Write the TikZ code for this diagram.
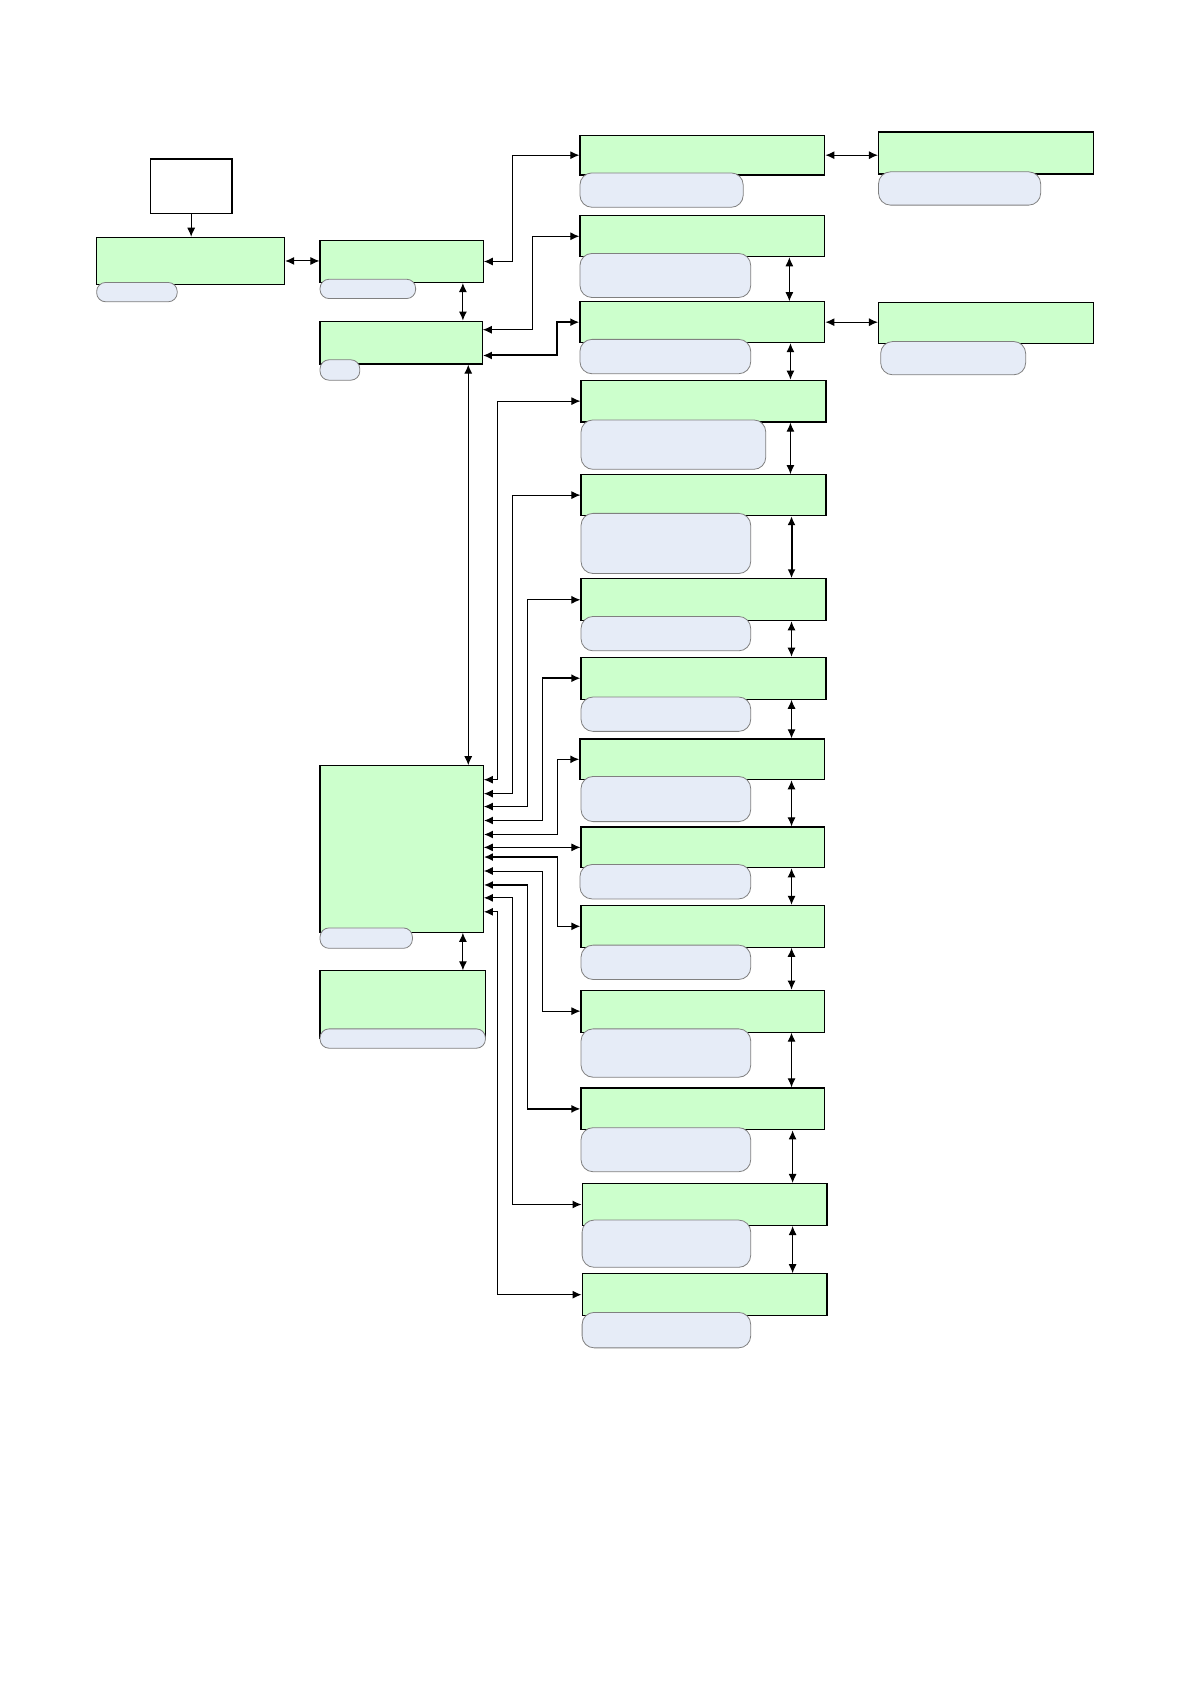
\documentclass[tikz,border=0pt]{standalone}
\usepackage{tikz}
\usetikzlibrary{arrows.meta,fit}
\definecolor{boxgreen}{HTML}{CCFFCC}
\definecolor{pillblue}{HTML}{E6ECF7}

\begin{document}
\begin{tikzpicture}[x=0.537pt,y=-0.537pt,
  gbox/.style={draw=black,fill=boxgreen,line width=0.6pt,inner sep=0pt},
  wbox/.style={draw=black,fill=white,line width=0.6pt,inner sep=0pt},
  pill/.style={draw=gray,fill=pillblue,line width=0.4pt,inner sep=0pt,rounded corners=6pt},
  spill/.style={pill,rounded corners=4.5pt},
  link/.style={line width=0.5pt,{Latex[length=4.5pt,width=4pt]}-{Latex[length=4.5pt,width=4pt]}},
  tolink/.style={line width=0.5pt,-{Latex[length=4.5pt,width=4pt]}}]
\useasboundingbox (0,0) rectangle (1109,1568);
\node[wbox,fit={(140,148) (216,199)}] (src) {};
\node[gbox,fit={(90,221) (265,265)}] (a) {};
\node[gbox,fit={(298,224) (450,263)}] (b) {};
\node[gbox,fit={(298,299) (449,339)}] (c) {};
\node[gbox,fit={(298,713) (450,868)}] (f) {};
\node[gbox,fit={(298,904) (452,967)}] (g) {};
\node[gbox,fit={(540,126) (768,163)}] (d1) {};
\node[gbox,fit={(540,201) (768,239)}] (d2) {};
\node[gbox,fit={(540,281) (768,319)}] (d3) {};
\node[gbox,fit={(541,354) (769,393)}] (d4) {};
\node[gbox,fit={(541,442) (769,480)}] (d5) {};
\node[gbox,fit={(541,539) (769,578)}] (d6) {};
\node[gbox,fit={(541,612) (769,651)}] (d7) {};
\node[gbox,fit={(540,688) (768,726)}] (d8) {};
\node[gbox,fit={(541,770) (768,808)}] (d9) {};
\node[gbox,fit={(541,843) (768,882)}] (d10) {};
\node[gbox,fit={(541,922) (768,961)}] (d11) {};
\node[gbox,fit={(541,1013) (768,1052)}] (d12) {};
\node[gbox,fit={(542,1102) (770,1141)}] (d13) {};
\node[gbox,fit={(542,1186) (770,1225)}] (d14) {};
\node[gbox,fit={(818,123) (1018,162)}] (e1) {};
\node[gbox,fit={(818,282) (1018,320)}] (e2) {};
\node[spill,fit={(90,263) (165,281)}] (pa) {};
\node[spill,fit={(298,260) (387,278)}] (pb) {};
\node[spill,fit={(298,335) (335,354)}] (pc) {};
\node[spill,fit={(298,864) (384,883)}] (pf) {};
\node[spill,fit={(298,958) (452,976)}] (pg) {};
\node[pill,fit={(540,161) (692,193)}] (p1) {};
\node[pill,fit={(540,236) (699,277)}] (p2) {};
\node[pill,fit={(540,316) (699,348)}] (p3) {};
\node[pill,fit={(541,391) (713,437)}] (p4) {};
\node[pill,fit={(541,478) (699,534)}] (p5) {};
\node[pill,fit={(541,574) (699,606)}] (p6) {};
\node[pill,fit={(541,649) (699,681)}] (p7) {};
\node[pill,fit={(541,723) (699,765)}] (p8) {};
\node[pill,fit={(540,805) (699,837)}] (p9) {};
\node[pill,fit={(541,880) (699,912)}] (p10) {};
\node[pill,fit={(541,958) (699,1003)}] (p11) {};
\node[pill,fit={(541,1050) (699,1091)}] (p12) {};
\node[pill,fit={(542,1136) (699,1180)}] (p13) {};
\node[pill,fit={(542,1222) (699,1255)}] (p14) {};
\node[pill,fit={(818,160) (969,191)}] (pe1) {};
\node[pill,fit={(820,318) (955,349)}] (pe2) {};
\draw[tolink] (src.south) -- (src.south |- a.north);
\draw[link] (a.east) -- (a.east -| b.west);
\draw[link] (b.south -| 431,0) -- (c.north -| 431,0);
\draw[link] (c.south -| 436,0) -- (f.north -| 436,0);
\draw[link] (f.south -| 431,0) -- (g.north -| 431,0);
\draw[link] (d1.east) -- (d1.east -| e1.west);
\draw[link] (d3.east) -- (d3.east -| e2.west);
\draw[link] (b.east) -- (b.east -| 477,0) |- (d1.west);
\draw[link] (c.east |- 0,307) -- (496,307) |- (d2.west);
\draw[link,line width=1pt] (c.east |- 0,331) -- (519,331) |- (d3.west);
\foreach \u/\l/\xx/\w in {2/3/735/0.5pt,3/4/736/0.5pt,4/5/736/0.5pt,5/6/737/1pt,6/7/737/0.5pt,7/8/737/0.5pt,8/9/737/0.5pt,9/10/737/0.5pt,10/11/737/0.5pt,11/12/737/0.5pt,12/13/738/0.5pt,13/14/738/0.5pt}
  \draw[link,line width=\w] (d\u.south -| \xx,0) -- (d\l.north -| \xx,0);
\foreach \n/\ya/\xv/\w in {4/726/463/0.5pt,5/739/477/0.5pt,6/751/491/0.5pt,7/764/505/0.8pt,8/777/519/0.8pt,9/789/530/0.5pt,10/798/519/0.8pt,11/811/505/0.5pt,12/824/491/0.8pt,13/836/477/0.5pt,14/849/463/0.5pt}
  \draw[link,line width=\w] (f.east |- 0,\ya) -- (\xv,\ya) |- (d\n.west);
\end{tikzpicture}
\end{document}
